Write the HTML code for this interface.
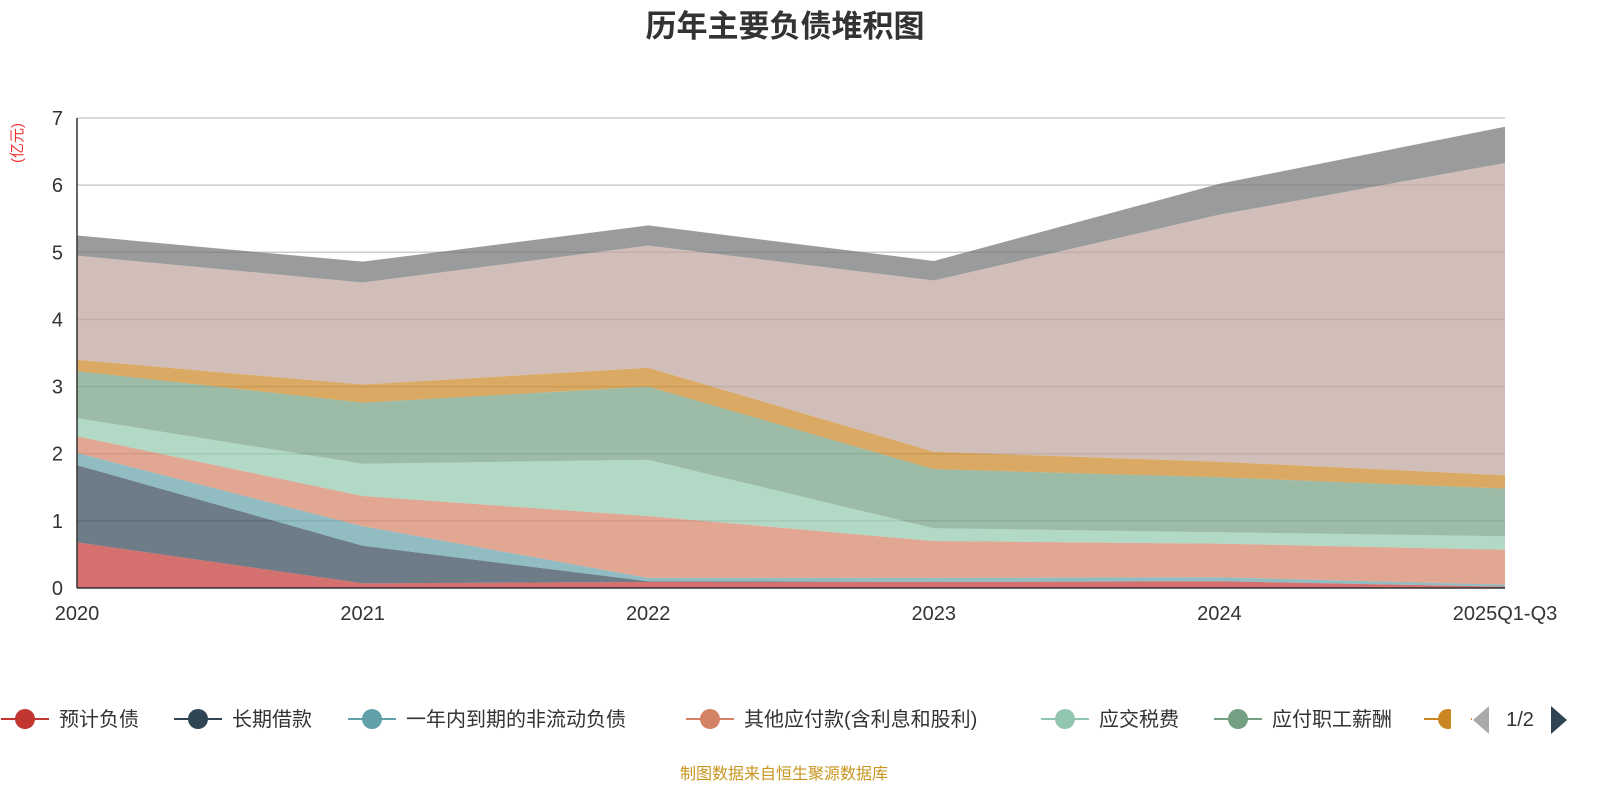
<!DOCTYPE html>
<html><head><meta charset="utf-8"><style>
body{margin:0;background:#fff;width:1600px;height:800px;overflow:hidden;font-family:"Liberation Sans","Noto Sans CJK SC",sans-serif}
</style></head><body>
<svg id="chart" width="1600" height="800" xmlns="http://www.w3.org/2000/svg">
<text x="785" y="37" text-anchor="middle" font-size="31" font-weight="bold" fill="#333" font-family="Liberation Sans,Noto Sans CJK SC,sans-serif">历年主要负债堆积图</text>
<text transform="translate(22,143) rotate(-90)" text-anchor="middle" font-size="15" fill="#e33" font-family="Liberation Sans,Noto Sans CJK SC,sans-serif">(亿元)</text>
<g id="grid"></g><g id="areas"></g><g id="axes"></g><g id="legend"></g>
<text x="784" y="779" text-anchor="middle" font-size="16" fill="#c8961e" font-family="Liberation Sans,Noto Sans CJK SC,sans-serif">制图数据来自恒生聚源数据库</text>
</svg>
<script>
const categories=["2020","2021","2022","2023","2024","2025Q1-Q3"];
const seriesNames=["预计负债","长期借款","一年内到期的非流动负债","其他应付款(含利息和股利)","应交税费","应付职工薪酬","应付票据","应付账款","合同负债"];
const s0=[0.68,0.07,0.09,0.09,0.10,0.02];
const s1=[1.15,0.56,0.01,0.00,0.00,0.00];
const s2=[0.18,0.29,0.05,0.06,0.06,0.03];
const s3=[0.25,0.45,0.92,0.55,0.50,0.52];
const s4=[0.27,0.48,0.84,0.19,0.17,0.20];
const s5=[0.70,0.91,1.09,0.88,0.82,0.71];
const s6=[0.17,0.27,0.28,0.26,0.23,0.20];
const s7=[1.55,1.52,1.82,2.55,3.68,4.65];
const s8=[0.30,0.31,0.30,0.29,0.46,0.54];
const yTicks=[0,1,2,3,4,5,6,7];
const series=[s0,s1,s2,s3,s4,s5,s6,s7,s8];
const colors=["#c23531","#2f4554","#61a0a8","#d48265","#91c7ae","#749f83","#ca8622","#bda29a","#6e7074"];
const NS="http://www.w3.org/2000/svg";
const X0=77,X1=1505,Y0=588,Y1=118,YMAX=7;
const xS=i=>X0+i*(X1-X0)/(categories.length-1);
const yS=v=>Y0-v*(Y0-Y1)/YMAX;
function mk(t,a,p){const e=document.createElementNS(NS,t);for(const k in a)e.setAttribute(k,a[k]);p.appendChild(e);return e;}
const F="Liberation Sans,Noto Sans CJK SC,sans-serif";
const grid=document.getElementById('grid'),areas=document.getElementById('areas'),axes=document.getElementById('axes'),leg=document.getElementById('legend');
yTicks.forEach(t=>{
 if(t>0){const l=mk('line',{x1:X0,x2:X1,y1:yS(t),y2:yS(t),stroke:'#ccc','stroke-width':1.5},grid);
 
 }
 const tx=mk('text',{x:X0-14,y:yS(t)+7,'text-anchor':'end','font-size':20,fill:'#333','font-family':F},axes);tx.textContent=t;
 
 
});
let base=categories.map(()=>0);
series.forEach((s,k)=>{
 const top=base.map((b,i)=>b+s[i]);
 let d='M'+top.map((v,i)=>xS(i)+','+yS(v)).join(' L');
 for(let i=categories.length-1;i>=0;i--)d+=' L'+xS(i)+','+yS(base[i]);
 const p=mk('path',{d:d+'Z',fill:colors[k],'fill-opacity':0.7},areas);
 
 
 base=top;
});
const ax=mk('line',{x1:X0,x2:X0,y1:Y1,y2:Y0,stroke:'#333','stroke-width':1.5},axes);


const bx=mk('line',{x1:X0,x2:X1,y1:Y0,y2:Y0,stroke:'#333','stroke-width':1.5},axes);


categories.forEach((c,i)=>{
 const tx=mk('text',{x:xS(i),y:620,'text-anchor':'middle','font-size':20,fill:'#333','font-family':F},axes);tx.textContent=c;
 
 
});
const legX=[25,198,372,710,1065,1238,1448];
legX.forEach((x,k)=>{
 const g=mk('g',{},leg);
 
 
 mk('line',{x1:x-24,x2:x+24,y1:719,y2:719,stroke:colors[k],'stroke-width':2},g);
 mk('circle',{cx:x,cy:719,r:10,fill:colors[k]},g);
 if(k<6){const t=mk('text',{x:x+34,y:726,'font-size':20,fill:'#333','font-family':F},g);t.textContent=seriesNames[k];}
});
mk('rect',{x:1451,y:700,width:20,height:40,fill:'#fff'},leg);
const pl=mk('path',{d:'M1489,706 L1473,720 L1489,734Z',fill:'#aaa'},leg);


const pt=mk('text',{x:1520,y:726,'text-anchor':'middle','font-size':20,fill:'#333','font-family':F},leg);pt.textContent='1/2';


const pn=mk('path',{d:'M1551,706 L1567,720 L1551,734Z',fill:'#2f4554'},leg);


</script>
</body></html>
